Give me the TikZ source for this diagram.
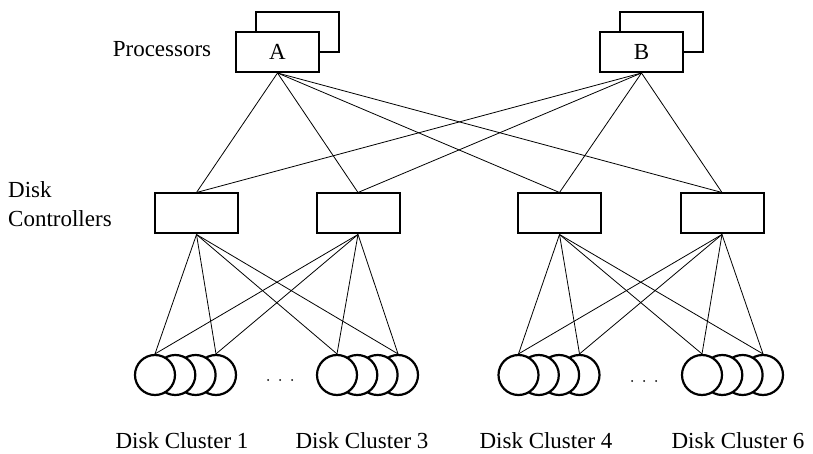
\documentclass[tikz,border=0pt]{standalone}
\usepackage{fontspec}
\setmainfont{Liberation Serif}
\begin{document}
\begin{tikzpicture}[x=1pt,y=-1pt,
  box/.style={draw,line width=2pt,fill=white,minimum width=83pt,minimum height=40pt,inner sep=0pt},
  disk/.style={draw,circle,line width=2.2pt,fill=white,minimum size=40pt,inner sep=0pt},
  link/.style={line width=0.8pt},
  lbl/.style={font=\fontsize{23}{27}\selectfont,inner sep=0pt},
  dot/.style={circle,fill=black,minimum size=2pt,inner sep=0pt}]
\useasboundingbox (0,0) rectangle (813,454);
% processors
\node[box] (Aback) at (297.5,32) {};
\node[box,lbl] (A) at (277.5,52) {A};
\node[box] (Bback) at (661.5,32) {};
\node[box,lbl] (B) at (641.5,52) {B};
\node[lbl,anchor=base] (plabel) at (162,57) {Processors};
% controllers
\node[box] (c1) at (196.5,213.5) {};
\node[box] (c2) at (358,213.5) {};
\node[box] (c3) at (559.5,213.5) {};
\node[box] (c4) at (722,213.5) {};
\node[lbl,anchor=base west] (dl1) at (8,198) {Disk};
\node[lbl,anchor=base west] (dl2) at (8,227) {Controllers};
% disks
\foreach \cl/\x in {1/155,3/337,4/518.5,6/702}{
  \node[disk] (d\cl d) at (\x+61,375) {};
  \node[disk] (d\cl c) at (\x+40.6,375) {};
  \node[disk] (d\cl b) at (\x+20.3,375) {};
  \node[disk] (d\cl a) at (\x,375) {};
}
% dots
\foreach \i/\x in {1/268,2/280,3/292}{\node[dot] (ldot\i) at (\x,380) {};}
\foreach \i/\x in {1/632,2/644,3/656}{\node[dot] (rdot\i) at (\x,381) {};}
% links processors -> controllers
\foreach \p in {A,B}{
  \foreach \c in {c1,c2,c3,c4}{\draw[link] (\p.south) -- (\c.north);}
}
% links controllers -> disks
\foreach \c in {c1,c2}{
  \foreach \d in {d1a,d1d,d3a,d3d}{\draw[link] (\c.south) -- (\d.north);}
}
\foreach \c in {c3,c4}{
  \foreach \d in {d4a,d4d,d6a,d6d}{\draw[link] (\c.south) -- (\d.north);}
}
% cluster labels
\node[lbl,anchor=base] (l1) at (182,448) {Disk Cluster 1};
\node[lbl,anchor=base] (l3) at (362,448) {Disk Cluster 3};
\node[lbl,anchor=base] (l4) at (546,448) {Disk Cluster 4};
\node[lbl,anchor=base] (l6) at (738,448) {Disk Cluster 6};
\end{tikzpicture}
\end{document}
